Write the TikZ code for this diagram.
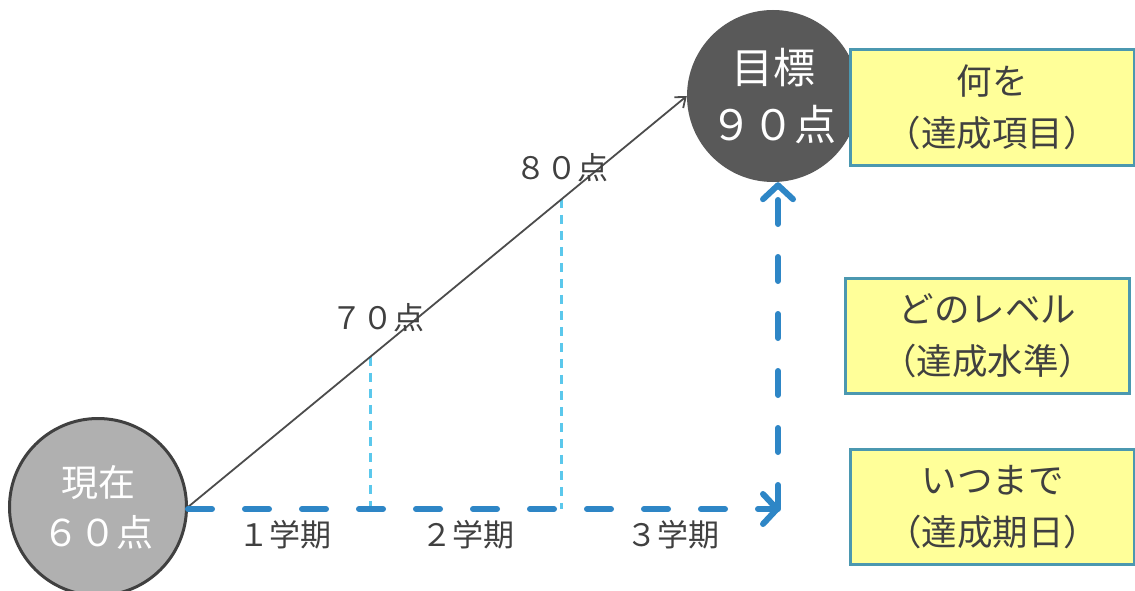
\documentclass[tikz,border=0pt]{standalone}
\usepackage{fontspec}
\setmainfont{Noto Sans CJK JP}
\usetikzlibrary{arrows.meta,calc}
\definecolor{txt}{HTML}{404040}
\definecolor{blueline}{HTML}{2E86C6}
\definecolor{lightblue}{HTML}{5BC8EC}
\definecolor{boxfill}{HTML}{FFFF99}
\definecolor{boxline}{HTML}{4B98B0}
\tikzset{
  infobox/.style={draw=boxline, line width=3pt, fill=boxfill, minimum width=284pt, minimum height=115pt,
    align=center, text=txt, font=\fontsize{35.5}{52}\selectfont, inner sep=0pt},
  lbl/.style={text=txt, font=\fontsize{31}{34}\selectfont, inner sep=0pt},
  bluearrow/.style={draw=blueline, line width=6pt, line cap=round, dash pattern=on 24pt off 33pt,
    -{Straight Barb[length=14pt, width=30pt, line cap=round, line join=round]}},
  guide/.style={draw=lightblue, line width=3pt, dash pattern=on 9pt off 7pt}
}
\begin{document}
\begin{tikzpicture}[x=1pt,y=-1pt]
\useasboundingbox (0,0) rectangle (1135,591);
\node[circle, fill=black!31, draw=black!75, line width=3pt, minimum size=177pt, inner sep=0pt,
  align=center, text=white, font=\fontsize{37}{50}\selectfont] (now) at (98,507) {現在\\６０点};
\node[circle, fill=black!65, minimum size=172pt, inner sep=0pt,
  align=center, text=white, font=\fontsize{42}{57}\selectfont] (goal) at (773,96) {目標\\９０点};
\node[infobox] (b1) at (992,107.5) {何を\\（達成項目）};
\node[infobox] (b2) at (987.5,335.5) {どのレベル\\（達成水準）};
\node[infobox] (b3) at (992.5,507) {いつまで\\（達成期日）};

\coordinate (corner) at (780,509);
\coordinate (start) at (188,509);
\coordinate (p70) at ($(now.east)!0.365!(goal.west)$);
\coordinate (p80) at ($(now.east)!0.7495!(goal.west)$);

\draw[guide] (p70) -- (p70 |- corner);
\draw[guide] (p80) -- (p80 |- corner);
\draw[draw=black!70, line width=1.8pt, -{Straight Barb[length=9pt, width=14pt]}] (now.east) -- (goal.west);
\draw[bluearrow] (start) -- (corner);
\draw[bluearrow] ([xshift=-2pt]corner) -- ([xshift=-2pt]corner |- goal.south);

\node[lbl] (l70) at (378,318) {７０点};
\node[lbl] (l80) at (562,168) {８０点};
\node[lbl] (t1) at (285,535) {１学期};
\node[lbl] (t2) at (468,535) {２学期};
\node[lbl] (t3) at (673,535) {３学期};
\end{tikzpicture}
\end{document}
